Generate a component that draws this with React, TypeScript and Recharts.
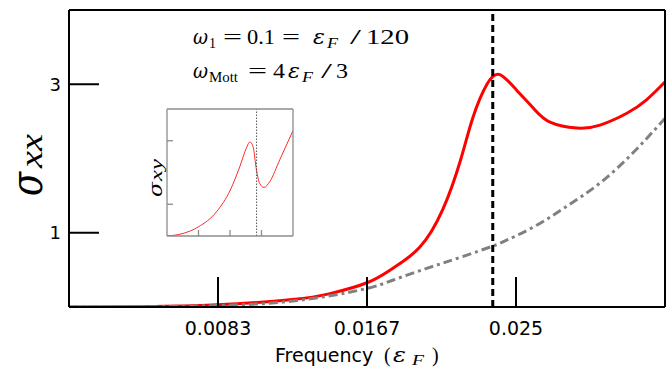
import React from 'react';
import { LineChart, Line, XAxis, YAxis, ReferenceLine } from 'recharts';

// ---- data (frequency in units of eps_F) ----
const xTickValues = [1 / 120, 2 / 120, 3 / 120];
const xTickLabels = ['0.0083', '0.0167', '0.025'];
const yTickValues = [1, 3];
const yTickLabels = ['1', '3'];
const freqDomain = [0, 1 / 30];
const sigmaDomain = [0, 4];
const mottLineFreq = 0.0237;

const sigmaXXFreq = [0, 0.0042, 0.0083, 0.0125, 0.0146, 0.0167, 0.0181, 0.0196, 0.0209, 0.0219, 0.0226, 0.0234, 0.0241, 0.025, 0.026, 0.0269, 0.0284, 0.0297, 0.0312, 0.0323, 0.03333];
const sigmaXXValues = [0, 0.005, 0.03, 0.1, 0.18, 0.33, 0.52, 0.8, 1.31, 1.98, 2.56, 3.01, 3.13, 2.93, 2.67, 2.49, 2.41, 2.45, 2.61, 2.79, 3.03];

const drudeFreq = [0, 0.0042, 0.0083, 0.0125, 0.0163, 0.0181, 0.02, 0.0219, 0.0237, 0.0243, 0.026, 0.0278, 0.0297, 0.0316, 0.03333];
const drudeValues = [0, 0.003, 0.02, 0.08, 0.23, 0.36, 0.52, 0.67, 0.82, 0.88, 1.08, 1.35, 1.67, 2.09, 2.54];

const insetFreq = [0, 0.00425, 0.00833, 0.01308, 0.01675, 0.01925, 0.021, 0.02192, 0.02275, 0.02367, 0.0245, 0.02567, 0.02717, 0.02983, 0.03333];
const insetValues = [0, 0.08, 0.29, 0.76, 1.45, 2.18, 2.77, 2.96, 2.82, 2.08, 1.66, 1.53, 1.71, 2.4, 3.32];
const insetXTicks = [1 / 120, 2 / 120, 3 / 120];
const insetYTicks = [1, 3];

const redData = sigmaXXFreq.map((f, i) => ({ f, s: sigmaXXValues[i] }));
const grayData = drudeFreq.map((f, i) => ({ f, s: drudeValues[i] }));
const insetData = insetFreq.map((f, i) => ({ f, s: insetValues[i] }));

const SERIF = "'Liberation Serif', 'DejaVu Serif', serif";
const GREEK = "'DejaVu Serif', 'Liberation Serif', serif";
const SANS = "'DejaVu Sans', sans-serif";

type PieceProps = { x: number; y: number; size: number; w?: number; italic?: boolean; family?: string; children: React.ReactNode };
const Piece = ({ x, y, size, w, italic, family, children }: PieceProps) => (
  <text
    x={x}
    y={y}
    fontSize={size}
    fontStyle={italic ? 'italic' : 'normal'}
    fontFamily={family || SERIF}
    fill="#000"
    textLength={w}
    lengthAdjust={w ? 'spacingAndGlyphs' : undefined}
  >
    {children}
  </text>
);

const frame = { stroke: '#000', strokeWidth: 2 };
const insetFrame = { stroke: '#8c8c8c', strokeWidth: 1.3 };
const blankLabel = () => '';

export default function App() {
  return (
    <div style={{ position: 'fixed', left: 0, top: 0, width: 672, height: 368, background: '#fff', overflow: 'hidden' }}>
      <div style={{ position: 'absolute', left: 0, top: 0 }}>
        <LineChart width={672} height={368} margin={{ top: 9, right: 6, bottom: 31, left: 39 }}>
          <XAxis
            xAxisId="b"
            dataKey="f"
            type="number"
            domain={freqDomain}
            allowDataOverflow
            ticks={xTickValues}
            interval={0}
            tickFormatter={(v: number, i: number) => xTickLabels[i]}
            height={30}
            orientation="bottom"
            axisLine={frame}
            tickLine={frame}
            tickSize={-30}
            tickMargin={45}
            tick={{ fill: '#000', fontSize: 19, fontFamily: SANS }}
          />
          <XAxis xAxisId="t" dataKey="f" type="number" domain={freqDomain} allowDataOverflow orientation="top" height={1} tick={false} tickLine={false} axisLine={frame} />
          <YAxis
            yAxisId="l"
            type="number"
            domain={sigmaDomain}
            allowDataOverflow
            ticks={yTickValues}
            interval={0}
            tickFormatter={(v: number) => yTickLabels[yTickValues.indexOf(v)]}
            width={30}
            axisLine={frame}
            tickLine={frame}
            tickSize={-30}
            tickMargin={38}
            tick={{ fill: '#000', fontSize: 18, fontFamily: SANS }}
          />
          <YAxis yAxisId="r" orientation="right" type="number" domain={sigmaDomain} allowDataOverflow width={1} tick={false} tickLine={false} axisLine={frame} />
          <Line xAxisId="b" yAxisId="l" data={redData} dataKey="s" type="natural" stroke="#ff0000" strokeWidth={3} dot={false} isAnimationActive={false} />
          <Line xAxisId="b" yAxisId="l" data={grayData} dataKey="s" type="natural" stroke="#808080" strokeWidth={3} strokeDasharray="9 4 3 4" dot={false} isAnimationActive={false} />
          <ReferenceLine xAxisId="b" yAxisId="l" x={mottLineFreq} stroke="#000" strokeWidth={3} strokeDasharray="7 4" />
        </LineChart>
      </div>

      <div style={{ position: 'absolute', left: 143, top: 105, background: 'transparent' }}>
        <LineChart width={154} height={145} margin={{ top: 3, right: 3, bottom: 4, left: 4 }}>
          <XAxis xAxisId="b" dataKey="f" type="number" domain={freqDomain} allowDataOverflow ticks={insetXTicks} interval={0} height={10} axisLine={insetFrame} tickLine={insetFrame} tickSize={-6} tickFormatter={blankLabel} tick={{ fontSize: 1 }} />
          <XAxis xAxisId="t" dataKey="f" type="number" domain={freqDomain} allowDataOverflow orientation="top" height={1} tick={false} tickLine={false} axisLine={insetFrame} />
          <YAxis yAxisId="l" type="number" domain={sigmaDomain} allowDataOverflow ticks={insetYTicks} interval={0} width={20} axisLine={insetFrame} tickLine={insetFrame} tickSize={-6} tickFormatter={blankLabel} tick={{ fontSize: 1 }} />
          <YAxis yAxisId="r" orientation="right" type="number" domain={sigmaDomain} allowDataOverflow width={1} tick={false} tickLine={false} axisLine={insetFrame} />
          <Line xAxisId="b" yAxisId="l" data={insetData} dataKey="s" type="monotone" stroke="#ff2a2a" strokeWidth={1} dot={false} isAnimationActive={false} />
          <ReferenceLine xAxisId="b" yAxisId="l" x={mottLineFreq} stroke="#555" strokeWidth={1} strokeDasharray="1.5 1.5" />
        </LineChart>
      </div>

      <svg width={672} height={368} style={{ position: 'absolute', left: 0, top: 0, pointerEvents: 'none' }}>
        {/* annotation line 1 */}
        <Piece x={193} y={44} size={21} w={15} italic family={GREEK}>ω</Piece>
        <Piece x={209} y={48} size={15} w={7}>1</Piece>
        <Piece x={223} y={44} size={21} w={19}>=</Piece>
        <Piece x={247} y={44} size={21} w={28}>0.1</Piece>
        <Piece x={282} y={44} size={21} w={18}>=</Piece>
        <Piece x={313} y={44} size={21} w={12} italic family={GREEK}>ε</Piece>
        <Piece x={327} y={48} size={15} w={11} italic>F</Piece>
        <Piece x={350} y={44} size={21} w={11}>/</Piece>
        <Piece x={366} y={44} size={21} w={43}>120</Piece>
        {/* annotation line 2 */}
        <Piece x={193} y={78} size={21} w={15} italic family={GREEK}>ω</Piece>
        <Piece x={209} y={82} size={15} w={29}>Mott</Piece>
        <Piece x={248} y={78} size={21} w={19}>=</Piece>
        <Piece x={273} y={78} size={21} w={12}>4</Piece>
        <Piece x={288} y={78} size={21} w={12} italic family={GREEK}>ε</Piece>
        <Piece x={302} y={82} size={15} w={11} italic>F</Piece>
        <Piece x={321} y={78} size={21} w={11}>/</Piece>
        <Piece x={336} y={78} size={21} w={12}>3</Piece>
        {/* x axis label */}
        <Piece x={275} y={362} size={19} family={SANS}>Frequency</Piece>
        <Piece x={384} y={362} size={20}>(</Piece>
        <Piece x={393} y={362} size={20} w={13} italic family={GREEK}>ε</Piece>
        <Piece x={412} y={365} size={14} w={12} italic>F</Piece>
        <Piece x={432} y={362} size={20}>)</Piece>
        {/* y axis label */}
        <g transform="translate(42,196) rotate(-90)">
          <Piece x={0} y={0} size={44} w={24} italic family={GREEK}>σ</Piece>
          <Piece x={28} y={0} size={32} w={34} italic>xx</Piece>
        </g>
        {/* inset y label */}
        <g transform="translate(162,197) rotate(-90)">
          <Piece x={0} y={0} size={18} w={15} italic family={GREEK}>σ</Piece>
          <Piece x={16} y={0} size={16} w={22} italic>xy</Piece>
        </g>
      </svg>
    </div>
  );
}
